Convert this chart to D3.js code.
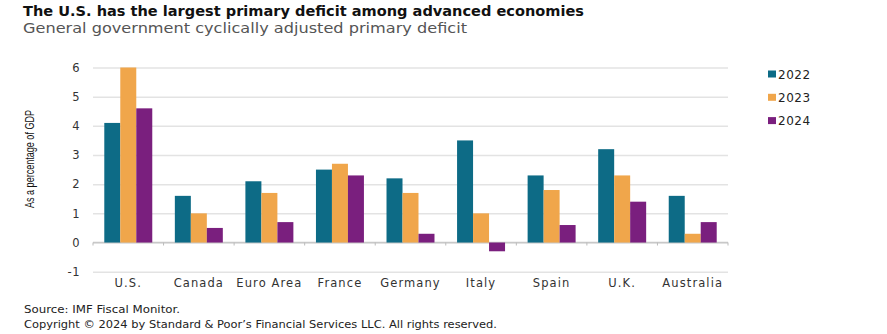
<!DOCTYPE html>
<html><head><meta charset="utf-8">
<script src="https://cdn.jsdelivr.net/npm/d3@7"></script>
<style>body{margin:0;background:#fff;}svg{display:block;}</style>
</head><body>
<script>
const categories = ["U.S.","Canada","Euro Area","France","Germany","Italy","Spain","U.K.","Australia"];
const seriesNames = ["2022","2023","2024"];
const v2022 = [4.1,1.6,2.1,2.5,2.2,3.5,2.3,3.2,1.6];
const v2023 = [6.0,1.0,1.7,2.7,1.7,1.0,1.8,2.3,0.3];
const v2024 = [4.6,0.5,0.7,2.3,0.3,-0.3,0.6,1.4,0.7];
const yTicks = [-1,0,1,2,3,4,5,6];
const colors = ["#0d6b86","#f0a64b","#7a1f7e"];
const seriesValues = [v2022,v2023,v2024];

const W=887,H=334;
const svg=d3.select("body").append("svg").attr("width",W).attr("height",H);
const x0=d3.scaleBand().domain(categories).range([93,728]).paddingInner(0.32).paddingOuter(0.16);
const x1=d3.scaleBand().domain(seriesNames).range([0,x0.bandwidth()]);
const y=d3.scaleLinear().domain([-1,6]).range([271.7,67.5]);
const col=d3.scaleOrdinal().domain(seriesNames).range(colors);

// title
svg.append("text").attr("x",23).attr("y",16).attr("font-family","DejaVu Sans").attr("font-weight","bold").attr("font-size",14).attr("fill","#111")
  .attr("textLength",561).attr("lengthAdjust","spacingAndGlyphs")
  .text("The U.S. has the largest primary deficit among advanced economies");
svg.append("text").attr("x",23).attr("y",33).attr("font-family","DejaVu Sans").attr("font-size",14).attr("fill","#555")
  .attr("textLength",444).attr("lengthAdjust","spacingAndGlyphs")
  .text("General government cyclically adjusted primary deficit");

// grid
const yAxis=d3.axisLeft(y).tickValues(yTicks).tickSize(-(728-93)).tickPadding(13).tickFormat(d=>String(d));
const gy=svg.append("g").attr("transform","translate(93,0)").call(yAxis);
gy.select(".domain").remove();
gy.selectAll(".tick line").attr("stroke","#e3e3e3").attr("stroke-width",1.5);
gy.selectAll(".tick text").attr("font-family","DejaVu Sans").attr("font-size",11.5).attr("letter-spacing",0.5).attr("fill","#333");

// zero axis
const bounds=categories.slice(1).map(c=>x0(c)-x0.step()*x0.paddingInner()/2);
svg.append("line").attr("x1",93).attr("x2",728).attr("y1",y(0)).attr("y2",y(0)).attr("stroke","#c8c8c8").attr("stroke-width",1.5);
svg.selectAll(".bt").data(bounds.concat([93,728])).enter().append("line").attr("x1",d=>d).attr("x2",d=>d).attr("y1",y(0)).attr("y2",y(0)+3).attr("stroke","#bbb");

// bars
const groups=svg.selectAll(".grp").data(categories).enter().append("g").attr("transform",d=>`translate(${x0(d)},0)`);
groups.selectAll("rect").data((d,i)=>seriesNames.map((s,j)=>({s,v:seriesValues[j][i]}))).enter().append("rect")
  .attr("x",d=>x1(d.s)).attr("width",x1.bandwidth())
  .attr("y",d=>y(Math.max(0,d.v))).attr("height",d=>Math.abs(y(d.v)-y(0)))
  .attr("fill",d=>col(d.s));

// category labels
svg.selectAll(".cl").data(categories).enter().append("text").attr("x",d=>x0(d)+x0.bandwidth()/2).attr("y",287)
  .attr("text-anchor","middle").attr("font-family","DejaVu Sans").attr("font-size",11.5).attr("letter-spacing",1.1).attr("fill","#333").text(d=>d);

// y title
svg.append("text").attr("transform","translate(34,159) rotate(-90)").attr("text-anchor","middle")
  .attr("font-family","Liberation Sans").attr("font-size",13).attr("fill","#111")
  .attr("textLength",98).attr("lengthAdjust","spacingAndGlyphs").text("As a percentage of GDP");

// legend
const lg=svg.selectAll(".lg").data(seriesNames).enter().append("g").attr("transform",(d,i)=>`translate(768,${74+i*23.3})`);
lg.append("rect").attr("x",0).attr("y",-3.5).attr("width",8).attr("height",7).attr("fill",d=>col(d));
lg.append("text").attr("x",10).attr("y",4.5).attr("font-family","DejaVu Sans").attr("font-size",12).attr("letter-spacing",0.5).attr("fill","#222").text(d=>d);

// footer
svg.append("text").attr("x",24).attr("y",313).attr("font-family","DejaVu Sans").attr("font-size",10).attr("fill","#222")
  .attr("textLength",156).attr("lengthAdjust","spacingAndGlyphs").text("Source: IMF Fiscal Monitor.");
svg.append("text").attr("x",24).attr("y",328).attr("font-family","DejaVu Sans").attr("font-size",10).attr("fill","#222")
  .attr("textLength",473).attr("lengthAdjust","spacingAndGlyphs").text("Copyright © 2024 by Standard & Poor’s Financial Services LLC. All rights reserved.");
</script>
</body></html>
